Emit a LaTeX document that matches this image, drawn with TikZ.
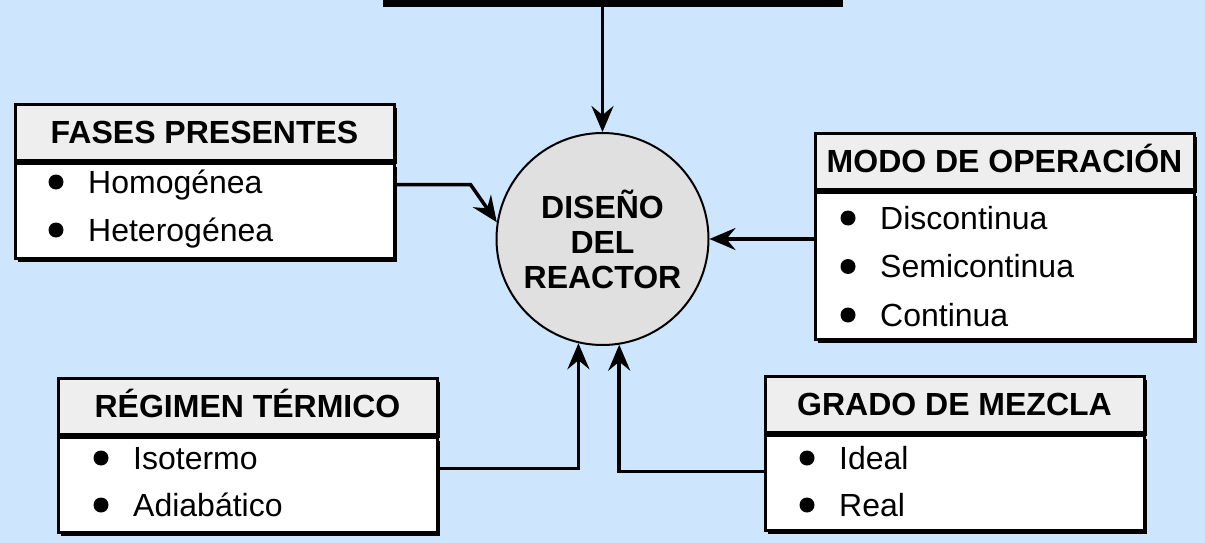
\documentclass[tikz,border=0pt]{standalone}
\usepackage{fontspec}
\setmainfont{Liberation Sans}
\usetikzlibrary{arrows.meta,positioning,shadows}
\definecolor{sky}{HTML}{CDE6FD}
\definecolor{headfill}{HTML}{EEEEEE}
\definecolor{corefill}{HTML}{E0E0E0}

\tikzset{
  boxshadow/.style={drop shadow={shadow xshift=3pt,shadow yshift=-4pt,fill=black,opacity=1}},
  head/.style={draw,line width=3pt,fill=headfill,minimum width=379pt,minimum height=56pt,
    inner sep=0pt,text height=23pt,text depth=0pt,
    font=\fontsize{32}{35}\selectfont\bfseries,boxshadow},
  listbox/.style={draw,line width=3pt,fill=white,minimum width=379pt,inner sep=0pt,boxshadow},
  itemtext/.style={anchor=base west,inner sep=0pt},
  feed/.style={->,line width=3.5pt}
}

\begin{document}
\begin{tikzpicture}[x=1pt,y=-1pt,>={Stealth[length=26pt,width=22pt,inset=9pt]},
    every node/.style={font=\fontsize{32}{35}\selectfont}]
    \useasboundingbox (0,0) rectangle (1205,543);
    \fill[sky] (0,0) rectangle (1205,543);

    \node[fill=black,minimum width=460pt,minimum height=20pt,inner sep=0pt,
          anchor=south west] (source) at (383,7.5) {};
    \node[circle,draw,line width=2pt,fill=corefill,minimum size=212pt,inner sep=0pt,
          align=center,font=\fontsize{32}{35}\selectfont\bfseries] (reactor)
        at (602.5,239) {DISEÑO\\DEL\\REACTOR};

    % fases presentes
    \node[head,anchor=north west] (fases) at (13.5,102.5) {FASES PRESENTES};
    \node[listbox,below=0pt of fases,minimum height=95pt] (fasesbody) {};
    \foreach \txt [count=\i] in {Homogénea,Heterogénea} {
        \node[itemtext] (fases\i) at ([shift={(74.5,31.5+48*\i-48)}]fasesbody.north west) {\txt};
        \fill ([shift={(-32,-11)}]fases\i.base west) circle (7.5pt);
    }

    % modo de operacion
    \node[head,anchor=north west] (modo) at (813.5,131.5) {MODO DE OPERACIÓN};
    \node[listbox,below=0pt of modo,minimum height=147pt] (modobody) {};
    \foreach \txt [count=\i] in {Discontinua,Semicontinua,Continua} {
        \node[itemtext] (modo\i) at ([shift={(66.5,38.5+48.5*\i-48.5)}]modobody.north west) {\txt};
        \fill ([shift={(-32,-11)}]modo\i.base west) circle (7.5pt);
    }

    % regimen termico
    \node[head,anchor=north west] (regimen) at (56.5,376.5) {RÉGIMEN TÉRMICO};
    \node[listbox,below=0pt of regimen,minimum height=95pt] (regimenbody) {};
    \foreach \txt [count=\i] in {Isotermo,Adiabático} {
        \node[itemtext] (regimen\i) at ([shift={(76.5,33.5+47*\i-47)}]regimenbody.north west) {\txt};
        \fill ([shift={(-32,-11)}]regimen\i.base west) circle (7.5pt);
    }

    % grado de mezcla
    \node[head,anchor=north west] (grado) at (763.5,374.5) {GRADO DE MEZCLA};
    \node[listbox,below=0pt of grado,minimum height=95pt] (gradobody) {};
    \foreach \txt [count=\i] in {Ideal,Real} {
        \node[itemtext] (grado\i) at ([shift={(75.5,35.5+47*\i-47)}]gradobody.north west) {\txt};
        \fill ([shift={(-32,-11)}]grado\i.base west) circle (7.5pt);
    }

    \draw[feed] (source.south -| reactor.north) -- (reactor.north);
    \draw[feed] (fasesbody.east |- fases1) -- ++(75,0) -- (reactor.171);
    \draw[feed] (modobody.west |- reactor) -- (reactor);
    \draw[feed] ([yshift=16pt]regimenbody.east) -| (reactor.257);
    \draw[feed] ([yshift=11pt]gradobody.west) -| (reactor.279);
\end{tikzpicture}
\end{document}
